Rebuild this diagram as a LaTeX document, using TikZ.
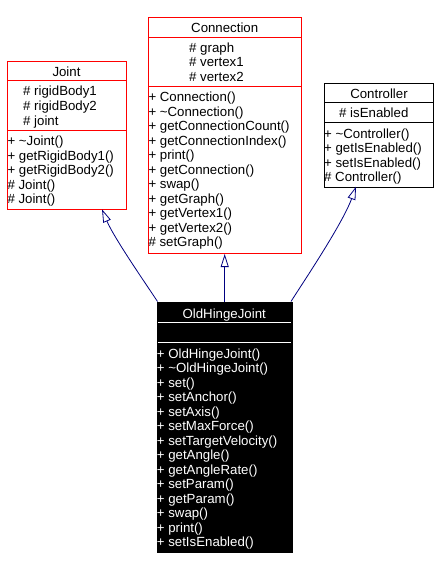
\documentclass[tikz,border=0pt]{standalone}
\usepackage{fontspec}
\setmainfont{Liberation Sans}
\usetikzlibrary{arrows.meta}
\definecolor{navy}{HTML}{000080}
\definecolor{boxred}{HTML}{FF0000}
\tikzset{
  classbox/.style={draw=boxred, line width=1pt, rectangle, inner sep=0pt, anchor=north west},
  darkbox/.style={draw=black, fill=black, line width=1pt, rectangle, inner sep=0pt, anchor=north west},
  plainbox/.style={draw=black, line width=1pt, rectangle, inner sep=0pt, anchor=north west},
  txt/.style={anchor=base west, inner sep=0pt, font=\fontsize{13.25}{15}\selectfont},
  ttl/.style={anchor=base, inner sep=0pt, font=\fontsize{13.25}{15}\selectfont},
  inh/.style={draw=navy, line width=0.8pt, -{Triangle[open, length=13pt, width=8pt, fill=white]}},
}
\begin{document}
\begin{tikzpicture}[x=1pt,y=-1pt]
\useasboundingbox[fill=white] (0,0) rectangle (438,569);

% ---------- Joint ----------
\node[classbox, minimum width=118.4pt, minimum height=148.3pt] (joint) at (7.3,61) {};
\draw[boxred, line width=1pt] (7.3,81) -- (125.7,81);
\draw[boxred, line width=1pt] (7.3,130.3) -- (125.7,130.3);
\node[ttl] (jt) at (66.5,76.7) {Joint};
\foreach \t [count=\i from 0] in {\# rigidBody1,\# rigidBody2,\# joint}
  \node[txt] (ja\i) at (23,96+14.55*\i) {\t};
\foreach \t [count=\i from 0] in {+ \textasciitilde{}Joint(),+ getRigidBody1(),+ getRigidBody2(),\# Joint(),\# Joint()}
  \node[txt] (jm\i) at (7.3,146+14.45*\i) {\t};

% ---------- Connection ----------
\node[classbox, minimum width=152.7pt, minimum height=235.7pt] (conn) at (148.3,17.3) {};
\draw[boxred, line width=1pt] (148.3,37.3) -- (301,37.3);
\draw[boxred, line width=1pt] (148.3,86.3) -- (301,86.3);
\node[ttl] (ct) at (224.7,33) {Connection};
\foreach \t [count=\i from 0] in {\# graph,\# vertex1,\# vertex2}
  \node[txt] (ca\i) at (189,52.3+14.55*\i) {\t};
\foreach \t [count=\i from 0] in {+ Connection(),+ \textasciitilde{}Connection(),+ getConnectionCount(),+ getConnectionIndex(),+ print(),+ getConnection(),+ swap(),+ getGraph(),+ getVertex1(),+ getVertex2(),\# setGraph()}
  \node[txt] (cm\i) at (148.3,102+14.45*\i) {\t};

% ---------- Controller ----------
\node[plainbox, minimum width=109pt, minimum height=103.7pt] (ctrl) at (324,83) {};
\draw[black, line width=1pt] (324,103) -- (433,103);
\draw[black, line width=1pt] (324,122.5) -- (433,122.5);
\node[ttl] (kt) at (379,99) {Controller};
\node[txt] (ka0) at (339,118) {\# isEnabled};
\foreach \t [count=\i from 0] in {+ \textasciitilde{}Controller(),+ getIsEnabled(),+ setIsEnabled(),\# Controller()}
  \node[txt] (km\i) at (324,138.2+14.45*\i) {\t};

% ---------- OldHingeJoint ----------
\node[darkbox, minimum width=135pt, minimum height=249.7pt] (ohj) at (156.7,302) {};
\draw[white, line width=1pt] (157.5,322) -- (291,322);
\draw[white, line width=1pt] (157.5,342) -- (291,342);
\node[ttl, text=white] (ot) at (224.2,318) {OldHingeJoint};
\foreach \t [count=\i from 0] in {+ OldHingeJoint(),+ \textasciitilde{}OldHingeJoint(),+ set(),+ setAnchor(),+ setAxis(),+ setMaxForce(),+ setTargetVelocity(),+ getAngle(),+ getAngleRate(),+ setParam(),+ getParam(),+ swap(),+ print(),+ setIsEnabled()}
  \node[txt, text=white] (om\i) at (156.7,358+14.52*\i) {\t};

% ---------- inheritance ----------
\coordinate (ohjA) at (157.5,301.5);
\coordinate (ohjC) at (291,301.5);
\coordinate (jointTip) at (102,209.3);
\coordinate (ctrlTip) at (356,186.7);
\draw[inh] (ohjA) .. controls (148,287) and (114,238) .. (jointTip);
\draw[inh] (ohj.north) -- (ohj.north |- conn.south);
\draw[inh] (ohjC) .. controls (300,287) and (342,225) .. (ctrlTip);
\end{tikzpicture}
\end{document}
